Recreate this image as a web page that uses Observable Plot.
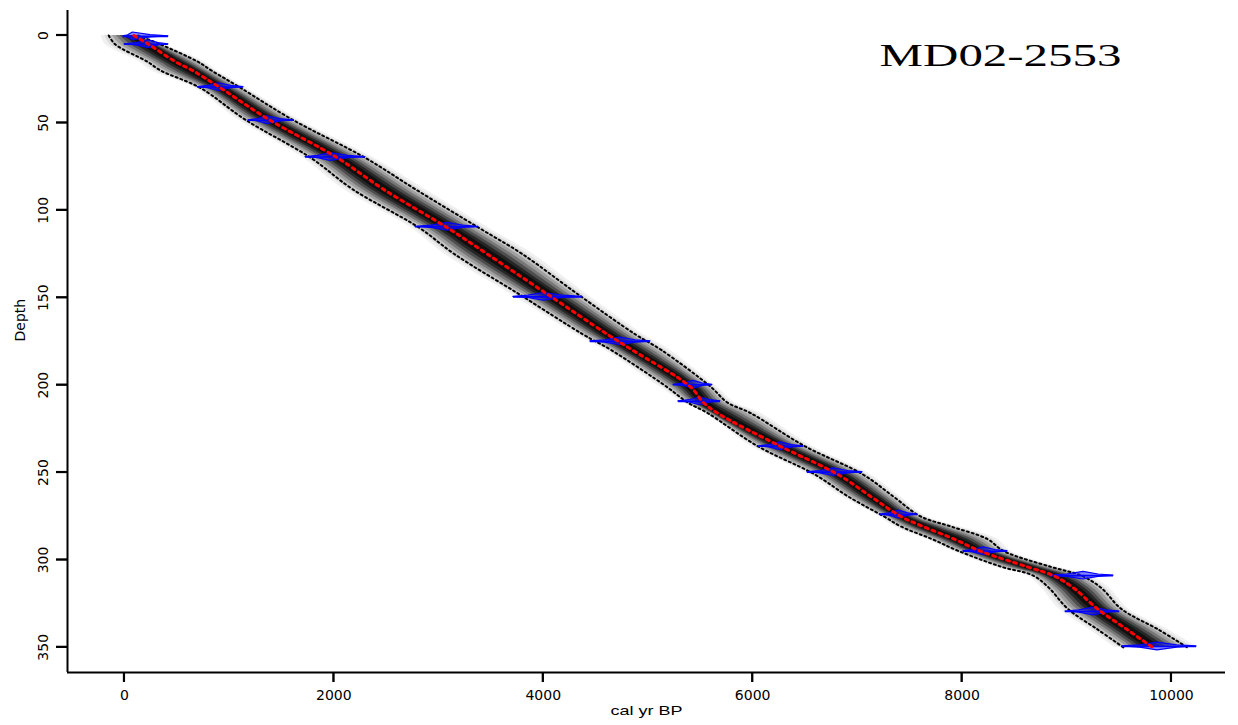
<!DOCTYPE html>
<html><head><meta charset="utf-8">
<script src="https://cdn.jsdelivr.net/npm/d3@7"></script>
<script src="https://cdn.jsdelivr.net/npm/@observablehq/plot@0.6"></script>
<style>
body{margin:0;background:#fff;overflow:hidden;}
</style>
</head><body><div id="chart"></div>
<script>
// Age-depth model (mean and 95% envelope)
const depth   = [0, 5, 15, 20, 30, 48, 70, 88, 110, 125, 148, 171, 180, 201, 210, 216, 235, 251, 264, 275, 281, 288, 295, 304, 309, 316, 328, 340, 350];
const meanAge = [90, 230, 487, 650, 917, 1377, 2034, 2474, 3085, 3464, 4040, 4613, 4852, 5406, 5530, 5663, 6265, 6810, 7135, 7411, 7632, 7920, 8176, 8625, 8873, 9064, 9293, 9580, 9819];
const minAge  = [-150, -90, 220, 344, 725, 1150, 1780, 2180, 2815, 3150, 3770, 4380, 4650, 5180, 5380, 5570, 6050, 6590, 6920, 7250, 7420, 7710, 7970, 8380, 8680, 8830, 9010, 9300, 9540];
const maxAge  = [130, 340, 700, 830, 1110, 1600, 2300, 2780, 3385, 3800, 4330, 4880, 5130, 5600, 5760, 5980, 6500, 7050, 7350, 7600, 7900, 8240, 8400, 8850, 9140, 9330, 9520, 9880, 10150];

// Calibrated dates
const dateDepth = [0.5, 5, 29.5, 48.5, 69.5, 109.4, 149.5, 175, 199.8, 209.3, 235, 249.8, 274, 295, 309, 329.5, 349.5];
const datePeak  = [80, 230, 900, 1366, 1968, 3085, 4002, 4737, 5435, 5501, 6265, 6772, 7393, 8204, 9160, 9255, 9866];
const dateLo    = [-10, 0, 700, 1184, 1729, 2779, 3715, 4450, 5243, 5291, 6055, 6523, 7220, 8013, 8844, 8987, 9532];
const dateHi    = [420, 420, 1137, 1614, 2302, 3381, 4374, 5024, 5616, 5692, 6485, 7049, 7574, 8434, 9446, 9503, 10239];

const xTicks = [0, 2000, 4000, 6000, 8000, 10000];
const yTicks = [0, 50, 100, 150, 200, 250, 300, 350];
const xLabel = "cal yr BP";
const yLabel = "Depth";
const title = "MD02-2553";

const xDomain = [-544, 10516];
const yDomain = [-14.3, 364.4];

const W = 1238, HT = 725, ML = 67, MR = 13, MT = 10, MB = 53;

const rows = depth.map((d, i) => ({depth: d, mean: meanAge[i], min: minAge[i], max: maxAge[i]}));
const dates = dateDepth.map((d, i) => ({id: i, depth: d, peak: datePeak[i], lo: dateLo[i], hi: dateHi[i]}));

const H = 2.2; // half height of date glyph (visual)
const shape = dates.flatMap(t => [
  {id: t.id, x: t.lo, y1: t.depth, y2: t.depth},
  {id: t.id, x: (t.lo + t.peak) / 2, y1: t.depth - 0.3 * H, y2: t.depth + 0.3 * H},
  {id: t.id, x: t.peak, y1: t.depth - H, y2: t.depth + H},
  {id: t.id, x: (t.peak + t.hi) / 2, y1: t.depth - 0.3 * H, y2: t.depth + 0.3 * H},
  {id: t.id, x: t.hi, y1: t.depth, y2: t.depth}
]);

const curve = "catmull-rom";
const levels = [[1.3, 0.06], [1.15, 0.08], [1.0, 0.12], [0.85, 0.18], [0.7, 0.25], [0.55, 0.35], [0.4, 0.5], [0.25, 0.6]];
const bands = levels.map(([f, a]) => Plot.areaX(rows, {
  y: "depth",
  x1: d => d.mean - f * (d.mean - d.min),
  x2: d => d.mean + f * (d.max - d.mean),
  fill: "black", fillOpacity: a, curve
}));

const chart = Plot.plot({
  width: W, height: HT,
  marginLeft: ML, marginRight: MR, marginTop: MT, marginBottom: MB,
  x: {domain: xDomain, ticks: xTicks, tickFormat: d => String(d), tickSize: 10, tickPadding: 8, label: null},
  y: {domain: yDomain, reverse: true, ticks: yTicks, tickFormat: d => String(d), tickSize: 11, tickPadding: 9, tickRotate: -90, label: null},
  style: {fontFamily: "DejaVu Sans", fontSize: "14px", color: "black", background: "white", overflow: "visible"},
  marks: [
    ...bands,
    Plot.line(rows, {x: "min", y: "depth", stroke: "black", strokeWidth: 2, strokeDasharray: "2,3", curve}),
    Plot.line(rows, {x: "max", y: "depth", stroke: "black", strokeWidth: 2, strokeDasharray: "2,3", curve}),
    Plot.areaY(shape, {x: "x", y1: "y1", y2: "y2", z: "id", fill: "#2a2aff", fillOpacity: 0.55, stroke: "#0000ff", strokeWidth: 1.2}),
    Plot.ruleY(dates, {y: "depth", x1: "lo", x2: "hi", stroke: "#0000ff", strokeWidth: 1.6}),
    Plot.line(rows, {x: "mean", y: "depth", stroke: "#ff0000", strokeWidth: 3, strokeDasharray: "3,4.3", curve}),
    Plot.ruleX([xDomain[0]], {x: d => d, stroke: "black", strokeWidth: 2}),
    Plot.ruleY([yDomain[1]], {y: d => d, stroke: "black", strokeWidth: 2}),
    Plot.text([yLabel], {text: d => d, frameAnchor: "left", dx: -47, rotate: -90, fontSize: 14}),
    Plot.text([xLabel], {text: d => d, frameAnchor: "bottom", dy: 39, fontSize: 12, fontFamily: "Liberation Sans", lineAnchor: "middle"}),
    Plot.text([title], {text: d => d, frameAnchor: "top-right", dx: -225, dy: 55, textAnchor: "middle", lineAnchor: "bottom", fontFamily: "Liberation Serif", fontSize: 32})
  ]
});

function stretch(t, s) {
  const tr = t.getAttribute("transform");
  if (tr) t.setAttribute("transform", tr + ` scale(${s},1)`);
  else {
    const x = +(t.getAttribute("x") || 0), y = +(t.getAttribute("y") || 0);
    t.removeAttribute("x"); t.removeAttribute("y");
    t.setAttribute("transform", `translate(${x},${y}) scale(${s},1)`);
  }
}
for (const t of chart.querySelectorAll("text")) {
  if (t.textContent === title) stretch(t, 1.53);
  if (t.textContent === xLabel) stretch(t, 1.5);
}

// tick marks on top, positioned with the plot's own scales
const sx = chart.scale("x"), sy = chart.scale("y");
const g = d3.select(chart).append("g").attr("fill", "none").attr("stroke", "#000").attr("stroke-width", 2.2);
const yb = HT - MB;
g.selectAll("path.xt").data(xTicks).join("path").attr("class", "xt")
  .attr("d", d => `M${sx.apply(d)},${yb}V${yb + 10}`);
g.selectAll("path.yt").data(yTicks).join("path").attr("class", "yt")
  .attr("d", d => `M${ML - 11},${sy.apply(d)}H${ML}`);

document.getElementById("chart").appendChild(chart);
</script>
</body></html>
